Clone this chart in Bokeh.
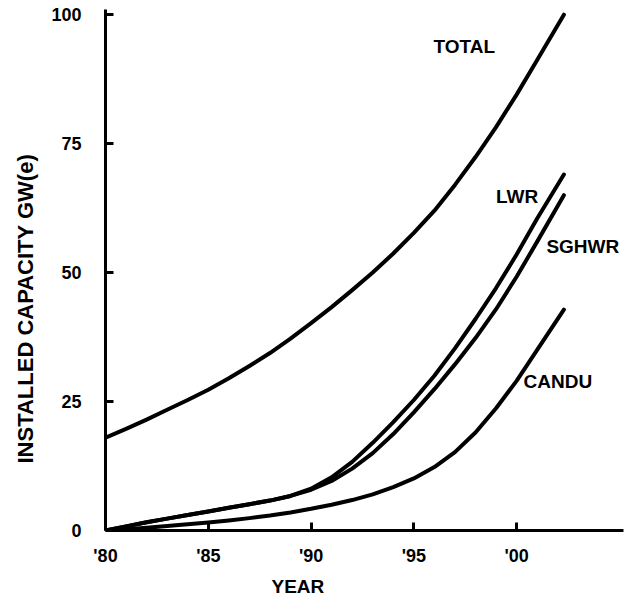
from bokeh.plotting import figure
from bokeh.models import Range1d, FixedTicker, ColumnDataSource, LabelSet, Title
from bokeh.core.properties import value
from bokeh.embed import file_html
from bokeh.resources import INLINE

# ---- data ----
years = [1980, 1981, 1982, 1983, 1984, 1985, 1986, 1987, 1988, 1989, 1990,
         1991, 1992, 1993, 1994, 1995, 1996, 1997, 1998, 1999, 2000, 2001, 2002.3]
total_gw = [18.0, 19.7, 21.5, 23.4, 25.3, 27.3, 29.5, 31.9, 34.4, 37.2, 40.2,
            43.3, 46.6, 50.0, 53.7, 57.7, 62.0, 67.0, 72.4, 78.2, 84.5, 91.2, 100.0]
lwr_gw = [0.0, 0.8, 1.6, 2.3, 3.0, 3.7, 4.4, 5.1, 5.8, 6.7, 8.1,
          10.3, 13.3, 17.0, 21.0, 25.3, 30.0, 35.3, 41.0, 47.0, 53.5, 60.5, 69.0]
sghwr_gw = [0.0, 0.8, 1.6, 2.3, 3.0, 3.7, 4.4, 5.1, 5.8, 6.7, 7.9,
            9.6, 12.0, 15.0, 18.7, 22.9, 27.4, 32.2, 37.3, 42.9, 49.2, 56.0, 65.0]
candu_gw = [0.0, 0.25, 0.55, 0.85, 1.2, 1.55, 1.95, 2.4, 2.9, 3.5, 4.2,
            5.0, 5.9, 7.0, 8.4, 10.1, 12.3, 15.2, 19.0, 23.7, 29.0, 35.0, 42.8]

x_ticks = [1980, 1985, 1990, 1995, 2000]
x_tick_labels = ["'80", "'85", "'90", "'95", "'00"]
y_ticks = [0, 25, 50, 75, 100]

series_names = ["TOTAL", "LWR", "SGHWR", "CANDU"]
name_x = [1995.96, 1999.0, 2001.45, 2000.34]
name_y = [92.6, 63.4, 53.7, 27.7]

FONT = "Liberation Sans"

p = figure(frame_width=518, frame_height=521,
           x_range=Range1d(1980, 2005.2), y_range=Range1d(0, 101),
           output_backend="svg", toolbar_location=None,
           min_border_left=100, min_border_right=12,
           min_border_top=9, min_border_bottom=70)

p.background_fill_color = "white"
p.border_fill_color = "white"
p.outline_line_color = None
p.xgrid.grid_line_color = None
p.ygrid.grid_line_color = None

for ys in (total_gw, lwr_gw, sghwr_gw, candu_gw):
    p.line(years, ys, line_color="black", line_width=4, line_cap="round", line_join="round")

# axes
p.xaxis.ticker = FixedTicker(ticks=x_ticks)
p.xaxis.major_label_overrides = {t: l for t, l in zip(x_ticks, x_tick_labels)}
p.yaxis.ticker = FixedTicker(ticks=y_ticks)
for ax in (p.xaxis, p.yaxis):
    ax.axis_line_width = 3
    ax.axis_line_color = "black"
    ax.major_tick_line_width = 3
    ax.major_tick_line_color = "black"
    ax.major_tick_in = 8
    ax.major_tick_out = 0
    ax.minor_tick_line_color = None
    ax.major_label_text_font = FONT
    ax.major_label_text_font_style = "bold"
    ax.major_label_text_font_size = "18px"
    ax.major_label_text_color = "black"

p.xaxis.major_label_standoff = 15
p.yaxis.major_label_standoff = 24

# axis titles (side titles, placed off-centre like the reference)
p.add_layout(Title(text="YEAR", align="left", offset=166, standoff=11,
                   text_font=FONT, text_font_style="bold",
                   text_font_size="19px", text_color="black"), "below")
p.add_layout(Title(text="INSTALLED CAPACITY GW(e)", align="left", offset=67, standoff=21,
                   text_font=FONT, text_font_style="bold",
                   text_font_size="22px", text_color="black"), "left")

src = ColumnDataSource(dict(x=name_x, y=name_y, text=series_names))
p.add_layout(LabelSet(x="x", y="y", text="text", source=src,
                      text_font=value(FONT), text_font_style="bold",
                      text_font_size="19px", text_color="black",
                      text_baseline="alphabetic", text_align="left"))

open("out.html", "w").write(file_html(p, INLINE))
